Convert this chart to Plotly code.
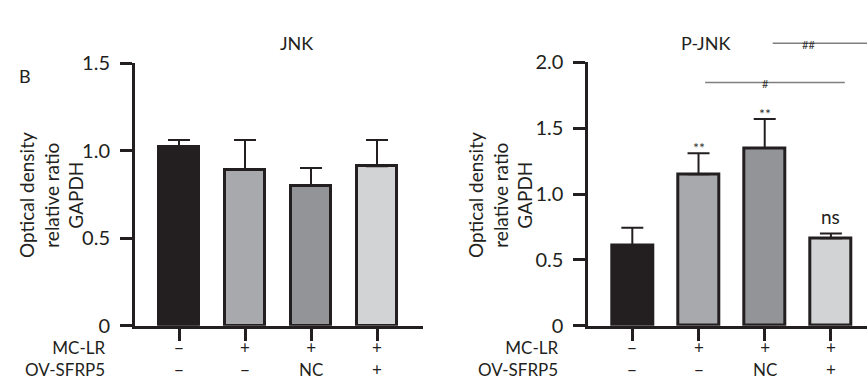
import plotly.graph_objects as go

# Groups (x positions 0..3) and treatment rows
groups = [0, 1, 2, 3]
mc_lr = ["−", "+", "+", "+"]
ov_sfrp5 = ["−", "−", "NC", "+"]

# JNK / GAPDH
jnk_mean = [1.02, 0.89, 0.80, 0.91]
jnk_err = [0.04, 0.17, 0.10, 0.15]

# P-JNK / GAPDH
pjnk_mean = [0.61, 1.15, 1.35, 0.665]
pjnk_err = [0.135, 0.16, 0.22, 0.035]
pjnk_marks = ["", "**", "**", "ns"]

bar_colors = ["#231f20", "#a7a9ac", "#929497", "#d1d3d4"]
ink = "#231f20"
font = "Lato, 'Open Sans', sans-serif"

fig = go.Figure()


def add_bars(means, errs, xa, ya):
    fig.add_trace(go.Bar(
        x=groups, y=means, width=0.62,
        marker=dict(color=bar_colors, line=dict(color=ink, width=3)),
        error_y=dict(type="data", symmetric=False, array=errs,
                     arrayminus=[0] * len(errs), color=ink,
                     thickness=2, width=11),
        xaxis=xa, yaxis=ya, showlegend=False, hoverinfo="skip",
    ))


add_bars(jnk_mean, jnk_err, "x", "y")
add_bars(pjnk_mean, pjnk_err, "x2", "y2")

line_style = dict(showline=True, linewidth=3, linecolor=ink, ticks="outside",
                  ticklen=12, tickwidth=3, tickcolor=ink, showgrid=False,
                  zeroline=False)
tick_font = dict(family=font, size=20, color=ink)

fig.update_layout(
    width=867, height=389,
    margin=dict(l=0, r=0, t=0, b=0),
    paper_bgcolor="white", plot_bgcolor="white",
    bargap=0,
    font=dict(family=font, color=ink),
    xaxis=dict(domain=[135 / 867, 423 / 867], range=[-0.667, 3.697],
               tickvals=groups, showticklabels=False, **line_style),
    yaxis=dict(domain=[0.1432, 0.863], range=[0, 1.5],
               tickvals=[0, 0.5, 1.0, 1.5], ticktext=["0", "0.5", "1.0", "1.5"],
               anchor="x", ticklabelstandoff=6, tickfont=tick_font, **line_style),
    xaxis2=dict(domain=[588.3 / 867, 1.0], range=[-0.665, 3.545],
                tickvals=groups, showticklabels=False, anchor="y2", **line_style),
    yaxis2=dict(domain=[0.1432, 0.8645], range=[0, 2.0],
                tickvals=[0, 0.5, 1.0, 1.5, 2.0],
                ticktext=["0", "0.5", "1.0", "1.5", "2.0"],
                anchor="x2", ticklabelstandoff=6, tickfont=tick_font, **line_style),
)

ann = []

# Panel titles and panel letter
ann.append(dict(text="JNK", x=278 / 867, y=(389 - 18) / 389, xref="paper", yref="paper",
                showarrow=False, font=dict(size=18, color=ink)))
ann.append(dict(text="P-JNK", x=731.7 / 867, y=(389 - 18) / 389, xref="paper", yref="paper",
                showarrow=False, font=dict(size=18, color=ink)))
ann.append(dict(text="B", x=17 / 867, y=(389 - 53) / 389, xref="paper", yref="paper",
                showarrow=False, font=dict(size=18, color=ink)))

# Y-axis titles
for cx in (51, 500):
    ann.append(dict(text="Optical density<br>relative ratio<br>GAPDH",
                    x=cx / 867, y=(389 - 194) / 389, xref="paper", yref="paper",
                    textangle=-90, showarrow=False, xanchor="center", yanchor="middle",
                    borderpad=0, font=dict(size=19, color=ink)))

# Treatment rows under each panel (two lines per column)
rows_y = (389 - 368) / 389
for xa, label_x in (("x", 106), ("x2", 559)):
    ann.append(dict(text="MC-LR<br>OV-SFRP5", x=label_x / 867, y=rows_y,
                    xref="paper", yref="paper", xanchor="right", yanchor="middle",
                    align="right", showarrow=False, borderpad=0,
                    font=dict(size=17, color=ink)))
    for g, a, b in zip(groups, mc_lr, ov_sfrp5):
        ann.append(dict(text=f"{a}<br>{b}", x=g, y=rows_y, xref=xa, yref="paper",
                        xanchor="center", yanchor="middle", showarrow=False,
                        borderpad=0, font=dict(size=17, color=ink)))

# Significance marks above P-JNK bars
for g, m, e, s in zip(groups, pjnk_mean, pjnk_err, pjnk_marks):
    if not s:
        continue
    big = s == "ns"
    ann.append(dict(text=s, x=g, y=m + e, xref="x2", yref="y2",
                    xanchor="center", yanchor="bottom", showarrow=False,
                    yshift=4 if big else -5,
                    font=dict(size=19 if big else 14, color=ink if big else "#333333")))

# Comparison brackets
shapes = [
    dict(type="line", xref="x2", yref="y2", x0=1.10, x1=3.21, y0=1.848, y1=1.848,
         line=dict(color="#7f7f7f", width=1.5)),
    dict(type="line", xref="paper", yref="paper", x0=772.7 / 867, x1=1.0,
         y0=(389 - 32.3) / 389, y1=(389 - 32.3) / 389,
         line=dict(color="#7f7f7f", width=1.5)),
]
ann.append(dict(text="#", x=770.7 / 867, y=(389 - 66) / 389, xref="paper", yref="paper",
                showarrow=False, font=dict(size=11, color="#333333")))
ann.append(dict(text="##", x=816.7 / 867, y=(389 - 25) / 389, xref="paper", yref="paper",
                showarrow=False, font=dict(size=11, color="#333333")))

fig.update_layout(annotations=ann, shapes=shapes)
fig.write_html("out.html")
